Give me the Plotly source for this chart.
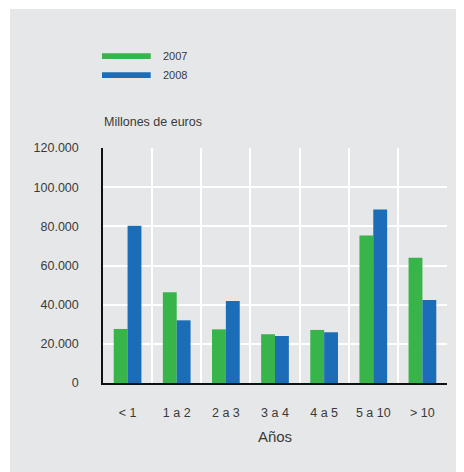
import plotly.graph_objects as go

categories = ["< 1", "1 a 2", "2 a 3", "3 a 4", "4 a 5", "5 a 10", "> 10"]
series_names = ["2007", "2008"]
values_2007 = [27600, 46400, 27400, 24900, 27100, 75300, 63900]
values_2008 = [80300, 32000, 41900, 24000, 25900, 88600, 42400]
y_ticks = [0, 20000, 40000, 60000, 80000, 100000, 120000]

colors = ["#37B44A", "#1A6DB6"]
BG = "#E6E7E8"
TXT = "#3a3a3a"
FONT = "Liberation Sans, Arial, sans-serif"

# the page puts the figure at an 8px body margin
OX, OY = 8, 8
W, H = 456, 464
L, R, T, B = 95, 17, 140, 89
PW, PH = W - L - R, H - T - B

def px_x(px):  # screenshot pixel -> paper
    return (px - OX - L) / PW

def px_y(py):
    return (H - B - (py - OY)) / PH

fig = go.Figure()
for name, vals, col in zip(series_names, [values_2007, values_2008], colors):
    fig.add_trace(go.Bar(x=categories, y=vals, name=name, marker=dict(color=col, line=dict(width=0)),
                         showlegend=False))

shapes = [
    dict(type="rect", xref="paper", yref="paper", x0=px_x(8), x1=px_x(464), y0=px_y(9), y1=px_y(8),
         fillcolor="white", line=dict(width=0), layer="below"),
    dict(type="rect", xref="paper", yref="paper", x0=px_x(8), x1=px_x(10), y0=px_y(472), y1=px_y(8),
         fillcolor="white", line=dict(width=0), layer="below"),
]
annotations = []
legend_rows = [(53.3, 59.0), (72.3, 78.0)]
for (ya, yb), name, col in zip(legend_rows, series_names, colors):
    shapes.append(dict(type="rect", xref="paper", yref="paper", x0=px_x(102), x1=px_x(150.7),
                       y0=px_y(yb), y1=px_y(ya), fillcolor=col, line=dict(width=0)))
    annotations.append(dict(text=name, xref="paper", yref="paper", x=px_x(161), y=px_y((ya + yb) / 2),
                            xanchor="left", yanchor="middle", showarrow=False,
                            font=dict(size=11, color=TXT, family=FONT)))
annotations.append(dict(text="Millones de euros", xref="paper", yref="paper", x=px_x(102), y=px_y(121.7),
                        xanchor="left", yanchor="middle", showarrow=False,
                        font=dict(size=12.5, color=TXT, family=FONT)))

fig.update_layout(
    width=W, height=H,
    margin=dict(l=L, r=R, t=T, b=B, pad=0),
    paper_bgcolor=BG, plot_bgcolor=BG,
    separators=",.",
    barmode="group", bargap=0.436, bargroupgap=0,
    font=dict(family=FONT, color=TXT, size=12.5),
    shapes=shapes, annotations=annotations,
    xaxis=dict(type="category", range=[-0.5, 6.5], tickson="boundaries", showgrid=True,
               gridcolor="white", gridwidth=2, showline=True, linecolor="#111", linewidth=1.5,
               ticks="", ticklabelstandoff=17, tickfont=dict(size=12.5, color=TXT),
               title=dict(text="Años", font=dict(size=15, color=TXT), standoff=13)),
    yaxis=dict(range=[0, 120000], tickvals=y_ticks, tickformat=",d", showgrid=True,
               gridcolor="white", gridwidth=2, showline=True, linecolor="#111", linewidth=1.5,
               ticks="", ticklabelstandoff=20, zeroline=False, tickfont=dict(size=12.5, color=TXT)),
)

fig.write_html("out.html")
